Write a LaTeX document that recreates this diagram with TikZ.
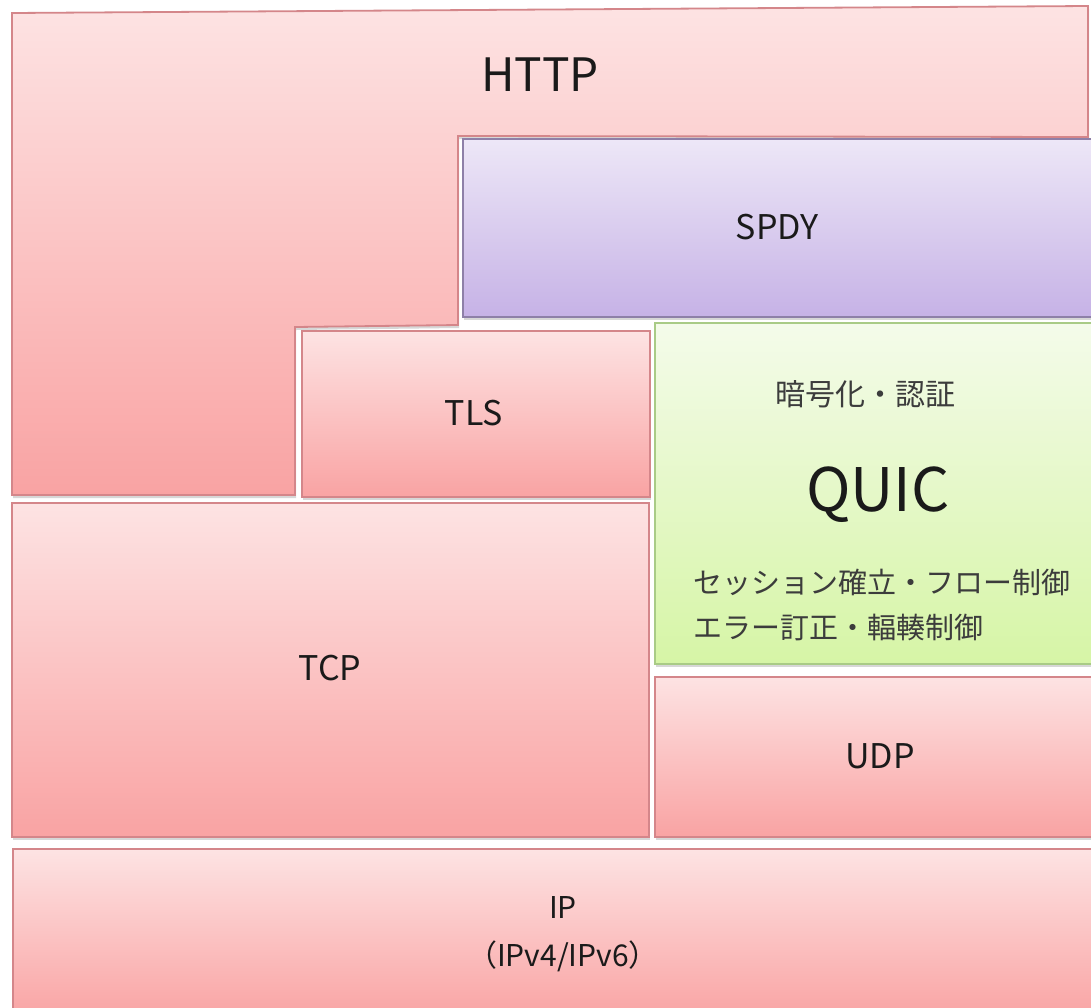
\documentclass[tikz,border=0pt]{standalone}
\usepackage{fontspec}
\setmainfont{Noto Sans CJK JP}
\usetikzlibrary{shadows}
\definecolor{pinkT}{HTML}{FDE3E3}
\definecolor{pinkB}{HTML}{F9A3A3}
\definecolor{pinkD}{HTML}{D4868A}
\definecolor{purT}{HTML}{EDE7F7}
\definecolor{purB}{HTML}{C6B2E6}
\definecolor{purD}{HTML}{8E80A8}
\definecolor{grnT}{HTML}{F4FBEA}
\definecolor{grnB}{HTML}{D6F5A6}
\definecolor{grnD}{HTML}{A9CB86}
\definecolor{txt}{HTML}{1A1A1A}
\tikzset{
  shad/.style={drop shadow={shadow xshift=1pt, shadow yshift=-3pt, opacity=0.22, fill=black!70}},
  pinklayer/.style={shad, draw=pinkD, line width=1.8pt, top color=pinkT, bottom color=pinkB},
  purlayer/.style={shad, draw=purD, line width=1.8pt, top color=purT, bottom color=purB},
  grnlayer/.style={shad, draw=grnD, line width=1.8pt, top color=grnT, bottom color=grnB},
  lbl/.style={text=txt, inner sep=0pt, font=\fontsize{34}{40}\selectfont},
  jlbl/.style={text=txt!85, inner sep=0pt, font=\fontsize{29}{45}\selectfont},
}
\begin{document}
\begin{tikzpicture}[x=1pt, y=-1pt]
  \useasboundingbox (0,0) rectangle (1091,1007);
  \fill[white] (0,0) rectangle (1091,1007);
  \clip (0,0) rectangle (1091,1007);
  % HTTP
  \path[pinklayer] (12,13) -- (1088,6) -- (1088,137) -- (458,136) -- (458,325)
        -- (295,327) -- (295,495) -- (12,495) -- cycle;
  % SPDY
  \path[purlayer] (463,139) rectangle (1100,317);
  % TLS
  \path[pinklayer] (302,331) rectangle (650,497);
  % QUIC
  \path[grnlayer] (655,323) rectangle (1100,664);
  % TCP
  \path[pinklayer] (12,503) rectangle (649,837);
  % UDP
  \path[pinklayer] (655,677) rectangle (1100,837);
  % IP
  \path[pinklayer] (13,849) rectangle (1100,1020);

  \node[lbl, font=\fontsize{46}{50}\selectfont] (http) at (540,75) {HTTP};
  \node[lbl] (spdy) at (777,227) {SPDY};
  \node[lbl] (tls) at (474,413) {TLS};
  \node[jlbl, font=\fontsize{30}{45}\selectfont] (crypt) at (865,394) {暗号化・認証};
  \node[lbl, font=\fontsize{60}{66}\selectfont] (quic) at (878,495) {QUIC};
  \node[jlbl, anchor=west, align=left] (qfeat) at (693,605) {セッション確立・フロー制御\\エラー訂正・輻輳制御};
  \node[lbl] (tcp) at (330,668) {TCP};
  \node[lbl] (udp) at (880,756) {UDP};
  \node[lbl, font=\fontsize{30}{36}\selectfont] (ip) at (563,907) {IP};
  \node[lbl, font=\fontsize{30}{36}\selectfont] (ipv) at (563,956) {（IPv4/IPv6）};
\end{tikzpicture}
\end{document}
